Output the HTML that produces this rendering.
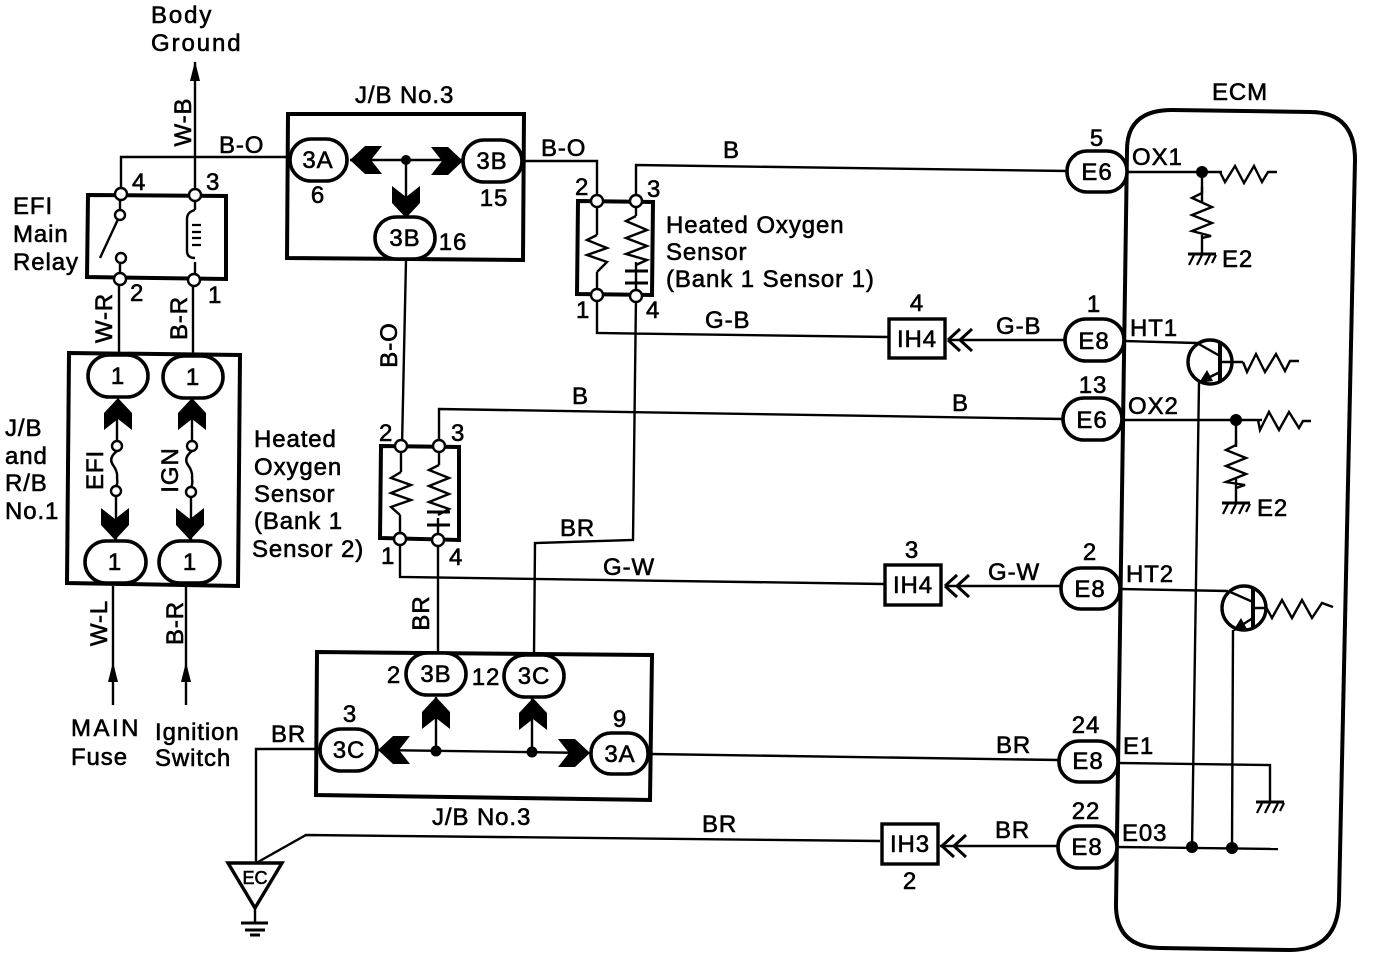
<!DOCTYPE html>
<html><head><meta charset="utf-8"><style>
html,body{margin:0;padding:0;background:#fff}
svg{display:block}
text{font-family:"Liberation Sans",sans-serif;font-size:24px;fill:#000;stroke:#000;stroke-width:.6;letter-spacing:.9px}
.m{text-anchor:middle}
.s{font-size:18px;letter-spacing:0}
.w{letter-spacing:1.9px}
.l{fill:none;stroke:#000;stroke-width:2.4;stroke-linejoin:miter}
.b{fill:none;stroke:#000;stroke-width:4}
.o{fill:#fff;stroke:#000;stroke-width:3.6}
.n{fill:#fff;stroke:#000;stroke-width:2.4}
.d{fill:#000;stroke:none}
</style></head><body>
<svg width="1376" height="958" viewBox="0 0 1376 958" xmlns="http://www.w3.org/2000/svg">
<defs>
<polygon id="c" points="0,0 14,15 14,32 0,21 -14,32 -14,15" fill="#000"/>
<g id="gnd"><path d="M-14,0H14" stroke="#000" stroke-width="3"/><path d="M-8,1L-13,11M0,1L-5,11M8,1L3,11M14,1L10,9" stroke="#000" stroke-width="2.2" fill="none"/></g>
<g id="dbl"><path d="M0,0L12,-11M0,0L12,11M12,0L24,-11M12,0L24,11" stroke="#000" stroke-width="3" fill="none"/></g>
</defs>

<!-- ECM -->
<path class="b" d="M1127,150Q1127,110 1172,110L1310,112Q1355,112 1355,160L1339,900Q1338,950 1290,950L1160,948Q1116,947 1116,905Z"/>

<!-- wires -->
<path class="l" d="M195,195V62M121,194V157H290"/>
<path class="l" d="M119,285V353M193,285V353M113,586V705M186,586V705"/>
<path class="l" d="M524,161H597V201M636,201V165L1068,171"/>
<path class="l" d="M406,260L402,446M439,446V409L1063,419"/>
<path class="l" d="M597,295V333L888,337M636,296L633,540L535,543L534,655"/>
<path class="l" d="M400,540V577L884,584M438,540V653"/>
<path class="l" d="M948,340H1064M945,586H1060M940,846H1058"/>
<path class="l" d="M1127,172H1222M1202,172V203M1202,235V254"/>
<path class="l" d="M1124,341L1197,343M1122,420H1262M1236,420V447M1236,478V503"/>
<path class="l" d="M1120,589L1228,591"/>
<path class="l" d="M651,754L1058,760M1118,763L1270,765V802"/>
<path class="l" d="M320,749H256V862M258,862L306,835L880,841"/>
<path class="l" d="M1117,847L1278,849"/>
<path class="l" d="M1199,382L1192,848M1233,630L1232,848"/>

<!-- top arrows -->
<polygon points="195,61 190,81 200,81" fill="#000"/>
<polygon points="113,662 108,682 118,682" fill="#000"/>
<polygon points="186,662 181,682 191,682" fill="#000"/>

<!-- relay -->
<polygon class="b" points="88,195 226,196 226,279 87,277"/>
<path class="l" d="M120,200V210M120,264V274M120,215L100,258M195,200V210M195,262V275"/>
<path class="l" d="M195,210Q187,212 187,219V251Q187,258 195,258"/>
<path d="M192,225H201M192,232H201M192,238H201M192,245H201" stroke="#000" stroke-width="2.2" fill="none"/>
<circle class="n" cx="120" cy="215" r="5"/><circle class="n" cx="121" cy="258" r="5"/>
<circle class="n" cx="121" cy="194" r="6"/><circle class="n" cx="195" cy="195" r="6"/>
<circle class="n" cx="120" cy="279" r="6"/><circle class="n" cx="194" cy="280" r="6"/>

<!-- JB No.1 box -->
<polygon class="b" points="69,353 240,355 238,586 67,583"/>
<path class="l" d="M117,400V441M116,497V540M192,400V441M191,497V540"/>
<path class="l" d="M117,451Q108,458 113,465T117,478Q118,484 116,486M192,451Q183,458 188,465T192,478Q193,484 191,487"/>
<circle class="n" cx="117" cy="446" r="5"/><circle class="n" cx="116" cy="491" r="5"/>
<circle class="n" cx="192" cy="446" r="5"/><circle class="n" cx="191" cy="492" r="5"/>
<use href="#c" transform="translate(118,398)"/><use href="#c" transform="translate(192,398)"/>
<use href="#c" transform="translate(115,540) rotate(180)"/><use href="#c" transform="translate(190,540) rotate(180)"/>
<rect class="o" x="88" y="355" width="60" height="42" rx="21"/><rect class="o" x="163" y="356" width="60" height="42" rx="21"/>
<rect class="o" x="85" y="541" width="61" height="42" rx="21"/><rect class="o" x="159" y="541" width="61" height="42" rx="21"/>

<!-- JB No.3 top -->
<polygon class="b" points="288,114 524,114 523,260 287,258"/>
<path class="l" d="M350,160H463M406,160V218"/>
<circle class="d" cx="406" cy="160" r="5"/>
<use href="#c" transform="translate(350,160) rotate(-90)"/>
<use href="#c" transform="translate(463,161) rotate(90)"/>
<use href="#c" transform="translate(406,218) rotate(180)"/>
<rect class="o" x="290" y="139" width="57" height="42" rx="21"/>
<rect class="o" x="463" y="140" width="59" height="42" rx="21"/>
<rect class="o" x="375" y="217" width="60" height="42" rx="21"/>

<!-- sensor 1 -->
<polygon class="b" points="578,201 653,202 652,295 577,294"/>
<path class="l" d="M597,201V235M597,272V295M636,201V216M636,262V296"/>
<polyline class="l" points="597,235 587,240 607,248 587,255 607,262 597,272"/>
<polyline class="l" points="636,216 626,221 647,230 626,238 647,246 626,254 647,260 636,265"/>
<path d="M625,271H648M625,283H648" stroke="#000" stroke-width="3" fill="none"/>
<circle class="n" cx="597" cy="201" r="6"/><circle class="n" cx="636" cy="201" r="6"/>
<circle class="n" cx="597" cy="295" r="6"/><circle class="n" cx="636" cy="296" r="6"/>

<!-- sensor 2 -->
<polygon class="b" points="381,446 459,447 459,540 380,538"/>
<path class="l" d="M401,446V472M400,515V540M439,446V465M438,518V540"/>
<polyline class="l" points="401,472 391,478 411,485 391,493 411,500 391,507 400,515"/>
<polyline class="l" points="439,465 429,470 449,478 429,486 449,494 429,502 449,509 438,515"/>
<path d="M427,512H450M427,525H450" stroke="#000" stroke-width="3" fill="none"/>
<circle class="n" cx="401" cy="446" r="6"/><circle class="n" cx="439" cy="446" r="6"/>
<circle class="n" cx="400" cy="539" r="6"/><circle class="n" cx="438" cy="540" r="6"/>

<!-- JB No.3 bottom -->
<polygon class="b" points="317,652 652,655 650,800 316,795"/>
<path class="l" d="M378,750L590,753M436,697V751M532,698V752"/>
<circle class="d" cx="436" cy="751" r="5.5"/><circle class="d" cx="532" cy="752" r="5.5"/>
<use href="#c" transform="translate(378,750) rotate(-90)"/>
<use href="#c" transform="translate(590,753) rotate(90)"/>
<use href="#c" transform="translate(436,697)"/>
<use href="#c" transform="translate(533,698)"/>
<rect class="o" x="406" y="653" width="60" height="42" rx="21"/>
<rect class="o" x="504" y="655" width="60" height="42" rx="21"/>
<rect class="o" x="320" y="729" width="57" height="42" rx="21"/>
<rect class="o" x="591" y="733" width="57" height="41" rx="20"/>

<!-- IH connectors -->
<rect x="889" y="319" width="56" height="39" fill="#fff" stroke="#000" stroke-width="3.4"/>
<rect x="885" y="565" width="56" height="40" fill="#fff" stroke="#000" stroke-width="3.4"/>
<rect x="882" y="824" width="56" height="40" fill="#fff" stroke="#000" stroke-width="3.4"/>
<use href="#dbl" transform="translate(948,340)"/><use href="#dbl" transform="translate(945,586)"/><use href="#dbl" transform="translate(942,846)"/>

<!-- ECM pins -->
<rect class="o" x="1067" y="151" width="60" height="41" rx="20"/>
<rect class="o" x="1065" y="319" width="59" height="42" rx="21"/>
<rect class="o" x="1063" y="398" width="59" height="42" rx="21"/>
<rect class="o" x="1061" y="568" width="59" height="41" rx="20"/>
<rect class="o" x="1059" y="741" width="59" height="41" rx="20"/>
<rect class="o" x="1058" y="826" width="59" height="42" rx="21"/>

<!-- ECM internals -->
<circle class="d" cx="1202" cy="172" r="6"/>
<circle class="d" cx="1236" cy="420" r="6"/>
<circle class="d" cx="1192" cy="847" r="6"/>
<circle class="d" cx="1232" cy="848" r="6"/>
<polyline class="l" points="1220,172 1225,182 1235,166 1244,183 1254,166 1262,182 1268,172 1277,172"/>
<polyline class="l" points="1243,362 1247,372 1256,354 1265,372 1276,354 1285,371 1290,361 1299,361"/>
<polyline class="l" points="1258,420 1260,430 1269,412 1279,430 1289,412 1299,428 1303,421 1311,421"/>
<polyline class="l" points="1266,607 1272,618 1282,600 1292,618 1302,600 1312,618 1322,603 1333,607"/>
<polyline class="l" points="1202,187 1202,193 1192,198 1212,207 1192,215 1212,223 1192,231 1211,236 1202,238"/>
<polyline class="l" points="1236,440 1236,445 1226,450 1246,458 1226,466 1246,474 1226,482 1245,485 1236,488"/>
<use href="#gnd" transform="translate(1202,254)"/><use href="#gnd" transform="translate(1236,503)"/><use href="#gnd" transform="translate(1270,802)"/>
<circle cx="1210" cy="362" r="22" fill="#fff" stroke="#000" stroke-width="3.4"/>
<path class="b" d="M1220,343V381"/><path class="l" d="M1197,343L1220,356M1220,372L1200,382M1220,362H1243"/>
<polygon points="1199,383 1207,370 1213,381" fill="#000"/>
<circle cx="1244" cy="608" r="22" fill="#fff" stroke="#000" stroke-width="3.4"/>
<path class="b" d="M1253,589V627"/><path class="l" d="M1228,591L1253,602M1253,618L1234,630M1253,608H1266"/>
<polygon points="1233,631 1241,618 1247,629" fill="#000"/>

<!-- EC -->
<polygon fill="#fff" stroke="#000" stroke-width="3.4" points="228,863 282,863 255,908"/>
<path d="M255,908V923" class="l"/><path d="M241,923H268M245,930H265M250,935H260" stroke="#000" stroke-width="3" fill="none"/>
<text class="m s" x="255" y="884">EC</text>

<!-- labels -->
<text class="w" x="151" y="23">Body</text><text class="w" x="151" y="51">Ground</text>
<text class="m" transform="translate(191,122) rotate(-90)">W-B</text>
<text x="219" y="153">B-O</text>
<text x="13" y="214">EFI</text><text x="13" y="242">Main</text><text x="13" y="270">Relay</text>
<text x="132" y="190">4</text><text x="206" y="190">3</text><text x="130" y="301">2</text><text x="208" y="303">1</text>
<text class="m" transform="translate(112,318) rotate(-90)">W-R</text>
<text class="m" transform="translate(187,318) rotate(-90)">B-R</text>
<text x="5" y="436">J/B</text><text x="5" y="464">and</text><text x="5" y="491">R/B</text><text x="5" y="519">No.1</text>
<text class="m" transform="translate(103,470) rotate(-90)">EFI</text>
<text class="m" transform="translate(178,470) rotate(-90)">IGN</text>
<text class="m" x="118" y="384">1</text><text class="m" x="193" y="385">1</text><text class="m" x="115" y="570">1</text><text class="m" x="190" y="570">1</text>
<text x="254" y="447">Heated</text><text x="254" y="475">Oxygen</text><text x="254" y="502">Sensor</text><text x="254" y="529">(Bank 1</text><text x="252" y="557">Sensor 2)</text>
<text class="m" transform="translate(107,623) rotate(-90)">W-L</text>
<text class="m" transform="translate(183,623) rotate(-90)">B-R</text>
<text class="w" x="71" y="736" style="letter-spacing:2.5px">MAIN</text><text x="71" y="765">Fuse</text>
<text x="155" y="740">Ignition</text><text x="155" y="766">Switch</text>
<text x="355" y="103">J/B No.3</text>
<text class="m" x="318" y="168">3A</text><text class="m" x="492" y="169">3B</text><text class="m" x="405" y="246">3B</text>
<text class="m" x="318" y="203">6</text><text class="m" x="494" y="206">15</text><text class="m" x="453" y="250">16</text>
<text x="541" y="156">B-O</text><text x="723" y="158">B</text>
<text x="575" y="195">2</text><text x="647" y="197">3</text><text x="576" y="318">1</text><text x="646" y="318">4</text>
<text x="666" y="233">Heated Oxygen</text><text x="666" y="260">Sensor</text><text x="666" y="287">(Bank 1 Sensor 1)</text>
<text x="705" y="328">G-B</text><text x="996" y="334">G-B</text>
<text class="m" x="917" y="311">4</text><text class="m" x="917" y="347">IH4</text>
<text class="m" x="1097" y="146">5</text><text class="m" x="1097" y="180">E6</text>
<text x="1132" y="165">OX1</text>
<text class="m" x="1094" y="312">1</text><text class="m" x="1094" y="349">E8</text>
<text x="1130" y="336">HT1</text>
<text class="m" x="1093" y="393">13</text><text class="m" x="1092" y="428">E6</text>
<text x="1128" y="414">OX2</text>
<text x="1222" y="267">E2</text><text x="1257" y="516">E2</text>
<text x="1212" y="100">ECM</text>
<text class="m" transform="translate(397,345) rotate(-90)">B-O</text>
<text x="572" y="404">B</text><text x="952" y="411">B</text>
<text x="379" y="441">2</text><text x="451" y="441">3</text><text x="381" y="564">1</text><text x="449" y="565">4</text>
<text x="560" y="536">BR</text><text x="603" y="575">G-W</text><text x="988" y="580">G-W</text>
<text class="m" x="912" y="558">3</text><text class="m" x="913" y="593">IH4</text>
<text class="m" x="1090" y="560">2</text><text class="m" x="1090" y="597">E8</text>
<text x="1126" y="582">HT2</text>
<text class="m" transform="translate(429,613) rotate(-90)">BR</text>
<text class="m" x="394" y="683">2</text><text class="m" x="436" y="682">3B</text><text class="m" x="486" y="685">12</text><text class="m" x="534" y="684">3C</text>
<text class="m" x="350" y="722">3</text><text class="m" x="349" y="758">3C</text>
<text class="m" x="620" y="727">9</text><text class="m" x="620" y="762">3A</text>
<text x="271" y="742">BR</text><text x="996" y="753">BR</text>
<text class="m" x="1086" y="733">24</text><text class="m" x="1088" y="769">E8</text>
<text x="1123" y="754">E1</text>
<text x="432" y="825">J/B No.3</text>
<text x="702" y="832">BR</text><text x="995" y="838">BR</text>
<text class="m" x="910" y="852">IH3</text><text class="m" x="910" y="889">2</text>
<text class="m" x="1086" y="819">22</text><text class="m" x="1087" y="855">E8</text>
<text x="1122" y="841">E03</text>
</svg>
</body></html>
